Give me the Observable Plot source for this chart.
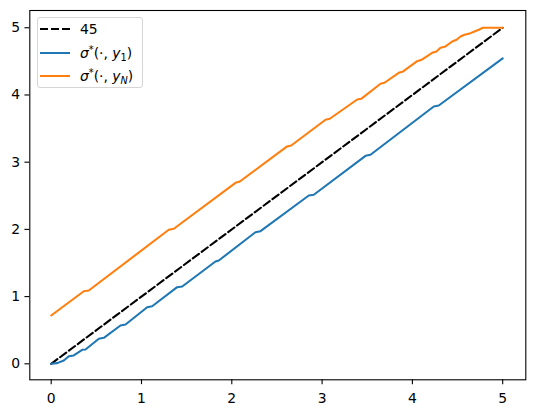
<!DOCTYPE html>
<html>
<head>
<meta charset="utf-8">
<script src="https://cdn.jsdelivr.net/npm/d3@7"></script>
<script src="https://cdn.jsdelivr.net/npm/@observablehq/plot@0.6"></script>
<style>
  body { margin: 0; background: #fff; font-family: "DejaVu Sans", sans-serif; }
  #wrap { position: relative; width: 534px; height: 413px; }
  #legend { position: absolute; left: 36.5px; top: 17px; width: 106px; height: 71px;
    border: 1px solid #d6d6d6; border-radius: 3px; background: rgba(255,255,255,0.8); box-sizing: border-box; }
  .row { position: absolute; left: 0; height: 0; }
  .sw { position: absolute; left: 2.5px; width: 29.5px; top: -1px; height: 0; }
  .lab { position: absolute; left: 42.5px; top: -9px; font-size: 13.9px; line-height: 18px; white-space: nowrap; color: #000; }
  .lab i { font-family: "DejaVu Sans"; font-style: italic; }
  .lab sup { font-size: 9.7px; vertical-align: 5px; line-height: 0; }
  .lab sub { font-size: 9.7px; vertical-align: -3px; line-height: 0; }
</style>
</head>
<body>
<div id="wrap"></div>
<script>
// 45-degree reference
const diagX = [0, 5];
const diagY = [0, 5];

// sigma*(., y_1)
const s1X = [0, 0.066, 0.14, 0.195, 0.25, 0.343, 0.38, 0.527, 0.583, 0.767, 0.823, 1.063, 1.118, 1.395, 1.451, 1.819, 1.856, 2.262, 2.318, 2.853, 2.908, 3.481, 3.536, 4.237, 4.292, 5];
const s1Y = [0, 0.01, 0.05, 0.113, 0.124, 0.208, 0.213, 0.372, 0.387, 0.57, 0.585, 0.842, 0.857, 1.14, 1.15, 1.522, 1.537, 1.958, 1.973, 2.504, 2.515, 3.095, 3.11, 3.829, 3.844, 4.545];

// sigma*(., y_N)
const sNX = [0, 0.361, 0.416, 1.302, 1.358, 2.041, 2.089, 2.613, 2.658, 3.038, 3.085, 3.389, 3.433, 3.647, 3.691, 3.849, 3.898, 4.053, 4.101, 4.219, 4.267, 4.311, 4.367, 4.441, 4.489, 4.533, 4.577, 4.644, 4.688, 4.736, 4.78, 5];
const sNY = [0.719, 1.08, 1.091, 1.994, 2.009, 2.693, 2.713, 3.234, 3.248, 3.631, 3.646, 3.933, 3.943, 4.167, 4.182, 4.33, 4.35, 4.503, 4.524, 4.628, 4.647, 4.702, 4.722, 4.796, 4.821, 4.871, 4.896, 4.92, 4.945, 4.97, 5.0, 5.0];

const ticks = [0, 1, 2, 3, 4, 5];
const tickLabels = ["0", "1", "2", "3", "4", "5"];
const fmt = d => tickLabels[ticks.indexOf(d)] ?? String(d);

const toRows = (xs, ys) => xs.map((x, i) => ({x, y: ys[i]}));
const diag = toRows(diagX, diagY);
const s1 = toRows(s1X, s1Y);
const sN = toRows(sNX, sNY);

const tk = 4.86;
const plot = Plot.plot({
  width: 534,
  height: 413,
  marginLeft: 29.3,
  marginRight: 8.7,
  marginTop: 10,
  marginBottom: 33.7,
  style: {fontSize: "13.9px", fontFamily: "DejaVu Sans, sans-serif", background: "#fff", color: "#000"},
  x: {domain: [-0.237, 5.256], label: null},
  y: {domain: [-0.238, 5.257], label: null},
  marks: [
    Plot.axisX({ticks, tickFormat: fmt, tickSize: tk, tickPadding: 8.5, strokeWidth: 1.1, label: null, fontSize: 13.9}),
    Plot.axisY({ticks, tickFormat: fmt, tickSize: tk, tickPadding: tk, strokeWidth: 1.1, label: null, fontSize: 13.9}),
    Plot.line(diag, {x: "x", y: "y", stroke: "#000", strokeWidth: 2.08, strokeDasharray: "7.7,3.33"}),
    Plot.line(s1, {x: "x", y: "y", stroke: "#1f77b4", strokeWidth: 2.08}),
    Plot.line(sN, {x: "x", y: "y", stroke: "#ff7f0e", strokeWidth: 2.08}),
    Plot.frame({stroke: "#000", strokeWidth: 1.1})
  ]
});
const wrap = document.getElementById("wrap");
wrap.appendChild(plot);

// legend
const legendItems = [
  {html: "45", color: "#000", dash: true},
  {html: "<i>σ</i><sup>*</sup>(·, <i>y</i><sub>1</sub>)", color: "#1f77b4", dash: false},
  {html: "<i>σ</i><sup>*</sup>(·, <i>y</i><sub><i>N</i></sub>)", color: "#ff7f0e", dash: false}
];
const rowTops = [11.3, 34.6, 58];
const leg = document.createElement("div");
leg.id = "legend";
legendItems.forEach((it, i) => {
  const row = document.createElement("div");
  row.className = "row";
  row.style.top = rowTops[i] + "px";
  const sw = document.createElement("div");
  sw.className = "sw";
  sw.style.borderTop = "2.08px solid " + it.color;
  if (it.dash) {
    sw.style.borderTop = "none";
    sw.style.height = "2.08px";
    sw.style.background = `repeating-linear-gradient(to right, ${it.color} 0 7.7px, transparent 7.7px 11.03px)`;
  }
  const lab = document.createElement("div");
  lab.className = "lab";
  lab.innerHTML = it.html;
  row.appendChild(sw);
  row.appendChild(lab);
  leg.appendChild(row);
});
wrap.appendChild(leg);
</script>
</body>
</html>
